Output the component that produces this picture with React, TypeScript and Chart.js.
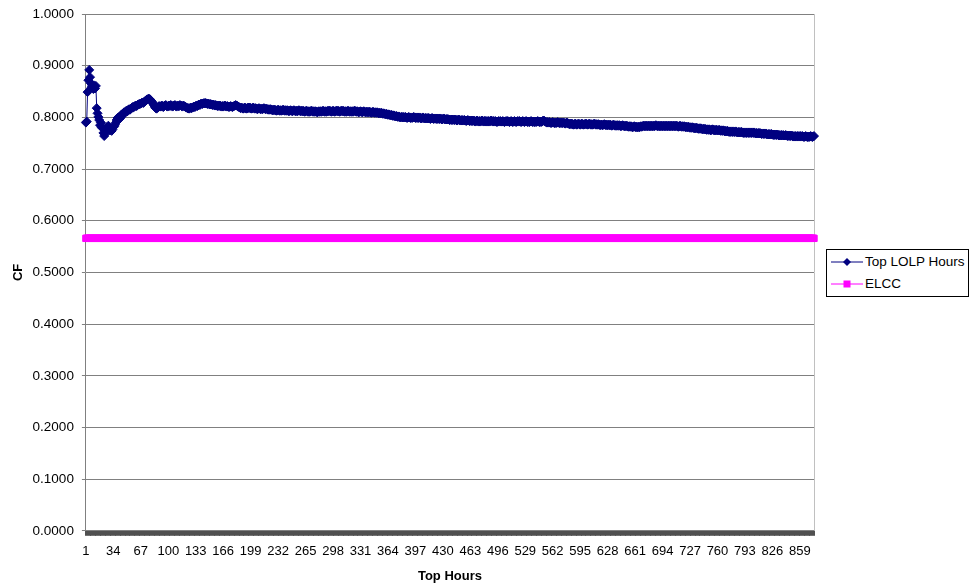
import React, { useEffect, useRef } from 'react';
import { Chart, registerables } from 'chart.js';

Chart.register(...registerables);

const FONT = '"Liberation Sans", Arial, Helvetica, sans-serif';

// Category axis: top hours 1..876, labelled every 33 hours
const N_HOURS = 876;
const hourLabels: string[] = Array.from({ length: N_HOURS }, (_, i) => String(i + 1));
const LABEL_EVERY = 33;

const yTickMin = 0;
const yTickMax = 1;
const yTickStep = 0.1;

const seriesNames = ['Top LOLP Hours', 'ELCC'];

// ELCC level (constant line)
const elccValue = 0.566;

// CF of the top N LOLP hours
const topLolp: number[] = [
  0.790, 0.792, 0.849, 0.872, 0.892, 0.878, 0.866, 0.858, 0.860, 0.855, 0.862, 0.856, 0.861, 0.818, 0.808, 0.801, 0.795, 0.785, 0.790, 0.781,
  0.779, 0.770, 0.764, 0.768, 0.776, 0.781, 0.778, 0.784, 0.779, 0.775, 0.778, 0.774, 0.777, 0.781, 0.783, 0.786, 0.790, 0.795, 0.799, 0.797,
  0.801, 0.798, 0.803, 0.806, 0.804, 0.808, 0.810, 0.809, 0.812, 0.813, 0.812, 0.815, 0.816, 0.815, 0.817, 0.818, 0.820, 0.819, 0.821, 0.822,
  0.823, 0.822, 0.824, 0.825, 0.826, 0.826, 0.827, 0.828, 0.829, 0.828, 0.830, 0.831, 0.833, 0.834, 0.835, 0.836, 0.836, 0.835, 0.833, 0.831,
  0.829, 0.826, 0.823, 0.820, 0.818, 0.817, 0.819, 0.820, 0.822, 0.821, 0.821, 0.823, 0.822, 0.820, 0.822, 0.823, 0.824, 0.822, 0.821, 0.822,
  0.823, 0.822, 0.824, 0.823, 0.821, 0.822, 0.823, 0.824, 0.822, 0.821, 0.823, 0.822, 0.822, 0.824, 0.823, 0.822, 0.821, 0.823, 0.822, 0.821,
  0.820, 0.819, 0.818, 0.818, 0.817, 0.818, 0.819, 0.818, 0.819, 0.820, 0.821, 0.820, 0.822, 0.823, 0.822, 0.824, 0.825, 0.824, 0.826, 0.827,
  0.826, 0.827, 0.828, 0.827, 0.828, 0.827, 0.826, 0.827, 0.826, 0.825, 0.826, 0.825, 0.824, 0.825, 0.824, 0.823, 0.824, 0.823, 0.822, 0.823,
  0.822, 0.823, 0.822, 0.821, 0.822, 0.821, 0.822, 0.823, 0.822, 0.821, 0.822, 0.821, 0.820, 0.821, 0.822, 0.821, 0.820, 0.821, 0.822, 0.823,
  0.824, 0.823, 0.822, 0.821, 0.820, 0.819, 0.818, 0.819, 0.818, 0.817, 0.818, 0.819, 0.818, 0.817, 0.818, 0.819, 0.818, 0.819, 0.818, 0.817,
  0.818, 0.819, 0.818, 0.817, 0.818, 0.817, 0.816, 0.817, 0.818, 0.817, 0.816, 0.817, 0.816, 0.817, 0.818, 0.817, 0.816, 0.817, 0.816, 0.815,
  0.816, 0.815, 0.816, 0.815, 0.814, 0.815, 0.814, 0.815, 0.814, 0.813, 0.814, 0.815, 0.814, 0.813, 0.814, 0.813, 0.814, 0.815, 0.814, 0.813,
  0.814, 0.813, 0.814, 0.813, 0.812, 0.813, 0.814, 0.813, 0.812, 0.813, 0.814, 0.813, 0.812, 0.813, 0.812, 0.813, 0.814, 0.813, 0.812, 0.813,
  0.812, 0.813, 0.812, 0.811, 0.812, 0.813, 0.812, 0.811, 0.812, 0.811, 0.812, 0.813, 0.812, 0.811, 0.812, 0.811, 0.812, 0.811, 0.810, 0.811,
  0.812, 0.811, 0.812, 0.811, 0.812, 0.813, 0.812, 0.811, 0.812, 0.811, 0.812, 0.813, 0.812, 0.813, 0.812, 0.811, 0.812, 0.813, 0.812, 0.811,
  0.812, 0.813, 0.812, 0.813, 0.812, 0.811, 0.812, 0.813, 0.812, 0.813, 0.812, 0.811, 0.812, 0.811, 0.812, 0.813, 0.812, 0.811, 0.812, 0.811,
  0.812, 0.811, 0.812, 0.813, 0.812, 0.811, 0.812, 0.811, 0.810, 0.811, 0.812, 0.811, 0.810, 0.811, 0.812, 0.811, 0.810, 0.811, 0.810, 0.811,
  0.810, 0.811, 0.810, 0.809, 0.810, 0.811, 0.810, 0.809, 0.810, 0.809, 0.810, 0.809, 0.808, 0.809, 0.808, 0.809, 0.808, 0.807, 0.808, 0.807,
  0.806, 0.807, 0.806, 0.805, 0.806, 0.805, 0.804, 0.805, 0.804, 0.803, 0.804, 0.803, 0.802, 0.803, 0.802, 0.801, 0.802, 0.801, 0.800, 0.801,
  0.801, 0.800, 0.801, 0.800, 0.801, 0.800, 0.799, 0.800, 0.801, 0.800, 0.799, 0.800, 0.799, 0.800, 0.801, 0.800, 0.799, 0.800, 0.799, 0.800,
  0.799, 0.800, 0.799, 0.798, 0.799, 0.800, 0.799, 0.798, 0.799, 0.798, 0.799, 0.798, 0.799, 0.798, 0.797, 0.798, 0.799, 0.798, 0.797, 0.798,
  0.798, 0.797, 0.798, 0.797, 0.798, 0.797, 0.798, 0.797, 0.796, 0.797, 0.798, 0.797, 0.796, 0.797, 0.796, 0.797, 0.796, 0.795, 0.796, 0.795,
  0.796, 0.795, 0.796, 0.795, 0.796, 0.795, 0.794, 0.795, 0.796, 0.795, 0.794, 0.795, 0.794, 0.795, 0.794, 0.795, 0.794, 0.793, 0.794, 0.795,
  0.794, 0.793, 0.794, 0.793, 0.794, 0.793, 0.794, 0.793, 0.792, 0.793, 0.794, 0.793, 0.792, 0.793, 0.792, 0.793, 0.794, 0.793, 0.792, 0.793,
  0.793, 0.792, 0.793, 0.792, 0.793, 0.792, 0.793, 0.794, 0.793, 0.792, 0.793, 0.792, 0.793, 0.792, 0.791, 0.792, 0.793, 0.792, 0.793, 0.792,
  0.792, 0.793, 0.792, 0.791, 0.792, 0.793, 0.792, 0.793, 0.792, 0.791, 0.792, 0.793, 0.792, 0.791, 0.792, 0.793, 0.792, 0.791, 0.792, 0.793,
  0.792, 0.793, 0.792, 0.791, 0.792, 0.793, 0.792, 0.791, 0.792, 0.793, 0.792, 0.791, 0.792, 0.791, 0.792, 0.793, 0.792, 0.791, 0.792, 0.791,
  0.792, 0.791, 0.792, 0.793, 0.792, 0.791, 0.792, 0.791, 0.792, 0.793, 0.794, 0.793, 0.792, 0.791, 0.790, 0.791, 0.790, 0.791, 0.790, 0.789,
  0.790, 0.791, 0.790, 0.789, 0.790, 0.789, 0.790, 0.791, 0.790, 0.789, 0.790, 0.789, 0.790, 0.789, 0.790, 0.789, 0.788, 0.789, 0.790, 0.789,
  0.788, 0.787, 0.788, 0.787, 0.788, 0.787, 0.786, 0.787, 0.788, 0.787, 0.786, 0.787, 0.788, 0.787, 0.786, 0.787, 0.788, 0.787, 0.786, 0.787,
  0.787, 0.788, 0.787, 0.786, 0.787, 0.788, 0.787, 0.786, 0.787, 0.786, 0.787, 0.788, 0.787, 0.786, 0.787, 0.786, 0.787, 0.786, 0.785, 0.786,
  0.786, 0.785, 0.786, 0.787, 0.786, 0.785, 0.786, 0.785, 0.786, 0.785, 0.786, 0.785, 0.784, 0.785, 0.786, 0.785, 0.784, 0.785, 0.784, 0.785,
  0.784, 0.785, 0.784, 0.783, 0.784, 0.785, 0.784, 0.783, 0.784, 0.783, 0.784, 0.783, 0.782, 0.783, 0.782, 0.783, 0.782, 0.781, 0.782, 0.783,
  0.782, 0.781, 0.782, 0.781, 0.782, 0.781, 0.782, 0.783, 0.782, 0.783, 0.784, 0.783, 0.784, 0.783, 0.784, 0.783, 0.784, 0.783, 0.784, 0.783,
  0.784, 0.783, 0.784, 0.783, 0.784, 0.785, 0.784, 0.783, 0.784, 0.783, 0.784, 0.783, 0.784, 0.783, 0.784, 0.783, 0.784, 0.783, 0.784, 0.783,
  0.784, 0.783, 0.784, 0.783, 0.784, 0.783, 0.784, 0.783, 0.784, 0.783, 0.784, 0.783, 0.782, 0.783, 0.784, 0.783, 0.782, 0.783, 0.782, 0.783,
  0.782, 0.781, 0.782, 0.781, 0.782, 0.781, 0.780, 0.781, 0.780, 0.781, 0.780, 0.779, 0.780, 0.779, 0.780, 0.779, 0.778, 0.779, 0.778, 0.779,
  0.778, 0.777, 0.778, 0.777, 0.778, 0.777, 0.776, 0.777, 0.776, 0.777, 0.776, 0.775, 0.776, 0.777, 0.776, 0.775, 0.776, 0.775, 0.776, 0.775,
  0.775, 0.776, 0.775, 0.774, 0.775, 0.774, 0.775, 0.774, 0.773, 0.774, 0.773, 0.774, 0.773, 0.772, 0.773, 0.772, 0.773, 0.772, 0.773, 0.772,
  0.772, 0.773, 0.772, 0.771, 0.772, 0.771, 0.772, 0.771, 0.772, 0.771, 0.770, 0.771, 0.770, 0.771, 0.770, 0.771, 0.770, 0.771, 0.770, 0.771,
  0.770, 0.771, 0.770, 0.771, 0.770, 0.769, 0.770, 0.769, 0.770, 0.769, 0.770, 0.769, 0.768, 0.769, 0.768, 0.769, 0.768, 0.769, 0.768, 0.767,
  0.768, 0.767, 0.768, 0.767, 0.768, 0.767, 0.766, 0.767, 0.766, 0.767, 0.766, 0.767, 0.766, 0.765, 0.766, 0.765, 0.766, 0.765, 0.766, 0.765,
  0.765, 0.766, 0.765, 0.764, 0.765, 0.764, 0.765, 0.764, 0.765, 0.764, 0.763, 0.764, 0.763, 0.764, 0.763, 0.764, 0.763, 0.764, 0.763, 0.764,
  0.763, 0.764, 0.763, 0.762, 0.763, 0.764, 0.763, 0.762, 0.763, 0.762, 0.763, 0.764, 0.763, 0.762, 0.763, 0.764,
];

const NAVY = '#000080';
const MAGENTA = '#FF00FF';

const plotBorder = {
  id: 'plotBorder',
  beforeDatasetsDraw(chart: any) {
    const { ctx, chartArea } = chart;
    const x = Math.round(chartArea.right) + 0.5;
    ctx.save();
    ctx.strokeStyle = '#c0c0c0';
    ctx.lineWidth = 1;
    ctx.beginPath();
    ctx.moveTo(x, chartArea.top);
    ctx.lineTo(x, chartArea.bottom);
    ctx.stroke();
    ctx.restore();
  },
};

function LegendIcon({ kind }: { kind: 'diamond' | 'square' }) {
  return (
    <svg width={32} height={10} style={{ position: 'absolute', left: 4, top: -5 }}>
      <line x1={0} y1={5} x2={32} y2={5} stroke={kind === 'diamond' ? NAVY : MAGENTA} strokeWidth={1} />
      {kind === 'diamond' ? (
        <polygon points="16,1 20,5 16,9 12,5" fill={NAVY} />
      ) : (
        <rect x={12.5} y={1.5} width={7} height={7} fill={MAGENTA} />
      )}
    </svg>
  );
}

export default function App() {
  const canvasRef = useRef<HTMLCanvasElement | null>(null);

  useEffect(() => {
    if (!canvasRef.current) return;
    const chart = new Chart(canvasRef.current, {
      type: 'line',
      data: {
        labels: hourLabels,
        datasets: [
          {
            label: seriesNames[0],
            data: topLolp,
            borderColor: NAVY,
            backgroundColor: NAVY,
            borderWidth: 1,
            pointStyle: 'rectRot',
            pointRadius: 4.5,
            pointBorderWidth: 1,
            pointBackgroundColor: NAVY,
            pointBorderColor: NAVY,
            clip: false,
          } as any,
          {
            label: seriesNames[1],
            data: hourLabels.map(() => elccValue),
            borderColor: MAGENTA,
            backgroundColor: MAGENTA,
            borderWidth: 1,
            pointStyle: 'rect',
            pointRadius: 4.5,
            pointBorderWidth: 1,
            pointBackgroundColor: MAGENTA,
            pointBorderColor: MAGENTA,
            clip: false,
          } as any,
        ],
      },
      options: {
        animation: false,
        responsive: true,
        maintainAspectRatio: false,
        layout: { padding: { left: 1, right: 158, top: 4, bottom: 0 } },
        plugins: {
          legend: { display: false },
          tooltip: { enabled: false },
        },
        scales: {
          x: {
            type: 'category',
            offset: false,
            grid: {
              display: true,
              drawOnChartArea: false,
              drawTicks: true,
              tickLength: 5,
              color: '#505050',
              lineWidth: 1,
            },
            border: { display: true, color: '#808080' },
            ticks: {
              autoSkip: false,
              maxRotation: 0,
              minRotation: 0,
              padding: 8,
              color: '#000',
              font: { family: FONT, size: 13 },
              callback: (_v: any, index: number) => (index % LABEL_EVERY === 0 ? hourLabels[index] : ''),
            },
            title: {
              display: true,
              text: 'Top Hours',
              color: '#000',
              font: { family: FONT, size: 13, weight: 'bold' },
              padding: { top: 1, bottom: 3 },
            },
          },
          y: {
            min: yTickMin,
            max: yTickMax,
            grid: { color: '#808080', lineWidth: 1, tickLength: 4 },
            border: { display: true, color: '#808080' },
            ticks: {
              stepSize: yTickStep,
              padding: 8,
              color: '#000',
              font: { family: FONT, size: 13.5 },
              callback: (v: any) => Number(v).toFixed(4),
            },
            title: {
              display: true,
              text: 'CF',
              color: '#000',
              font: { family: FONT, size: 13, weight: 'bold' },
              padding: { top: 10, bottom: -2 },
            },
          },
        },
      } as any,
      plugins: [plotBorder],
    });
    return () => chart.destroy();
  }, []);

  const rowText: React.CSSProperties = {
    position: 'absolute',
    left: 38,
    top: -9,
    fontFamily: FONT,
    fontSize: 13.5,
    lineHeight: '17px',
    color: '#000',
    whiteSpace: 'nowrap',
  };

  return (
    <div style={{ position: 'absolute', left: 0, top: 0, width: 972, height: 587, background: '#fff', overflow: 'hidden' }}>
      <div style={{ position: 'absolute', left: 0, top: -2, width: 972, height: 589 }}>
        <canvas ref={canvasRef} />
      </div>
      <div
        style={{
          position: 'absolute',
          left: 826,
          top: 249,
          width: 141,
          height: 46,
          border: '1px solid #000',
          background: '#fff',
        }}
      >
        <div style={{ position: 'absolute', left: 0, top: 12, width: '100%' }}>
          <LegendIcon kind="diamond" />
          <span style={rowText}>{seriesNames[0]}</span>
        </div>
        <div style={{ position: 'absolute', left: 0, top: 34, width: '100%' }}>
          <LegendIcon kind="square" />
          <span style={rowText}>{seriesNames[1]}</span>
        </div>
      </div>
    </div>
  );
}
